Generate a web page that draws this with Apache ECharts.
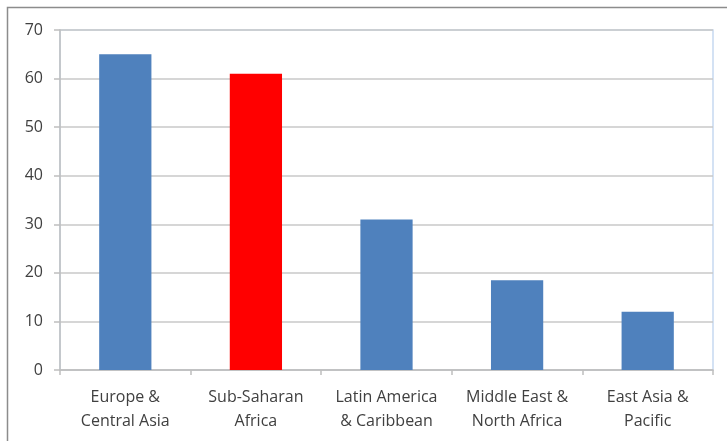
<!DOCTYPE html>
<html>
<head>
<meta charset="utf-8">
<script src="https://cdn.jsdelivr.net/npm/echarts@6/dist/echarts.min.js"></script>
<style>
html,body{margin:0;padding:0;background:#fff;}
#chart{width:727px;height:441px;}
</style>
</head>
<body>
<div id="chart"></div>
<script>
// Regions shown along the category axis
const regions = ['Europe &\nCentral Asia', 'Sub-Saharan\nAfrica', 'Latin America\n& Caribbean', 'Middle East &\nNorth Africa', 'East Asia &\nPacific'];
// Value per region
const values = [65, 61, 31, 18.5, 12];
// Region drawn in the highlight colour
const highlighted = 'Sub-Saharan\nAfrica';
// Value-axis ticks
const yTicks = [0, 10, 20, 30, 40, 50, 60, 70];

const chart = echarts.init(document.getElementById('chart'), null, { renderer: 'canvas' });
const font = '"Open Sans", "Liberation Sans", sans-serif';

chart.setOption({
  animation: false,
  backgroundColor: '#fff',
  graphic: [{
    type: 'rect',
    shape: { x: 7.5, y: 7.5, width: 740, height: 460 },
    style: { fill: 'none', stroke: '#8c8c8c', lineWidth: 1.5 },
    silent: true
  }],
  grid: {
    left: 60, right: 14, top: 30, bottom: 71,
    show: true, borderColor: '#c6d9f1', borderWidth: 1.5, backgroundColor: 'transparent'
  },
  xAxis: {
    type: 'category',
    data: regions,
    axisLine: { lineStyle: { color: '#bfbfbf', width: 1.5 } },
    axisTick: { show: true, length: 5, lineStyle: { color: '#bfbfbf', width: 1.5 } },
    axisLabel: { color: '#404040', fontFamily: font, fontSize: 16, lineHeight: 24, margin: 15, interval: 0 }
  },
  yAxis: {
    type: 'value',
    min: yTicks[0], max: yTicks[yTicks.length - 1], interval: 10,
    axisLine: { show: true, lineStyle: { color: '#bfbfbf', width: 1.5 } },
    axisTick: { show: true, length: 6, lineStyle: { color: '#bfbfbf', width: 1.5 } },
    splitLine: { lineStyle: { color: '#c8c8c8', width: 1.5 } },
    axisLabel: { color: '#404040', fontFamily: font, fontSize: 16, margin: 17 }
  },
  series: [{
    type: 'bar',
    barWidth: '40%',
    data: values.map((v, i) => ({
      value: v,
      itemStyle: { color: regions[i] === highlighted ? '#ff0000' : '#4f81bd' }
    }))
  }]
});
</script>
</body>
</html>
